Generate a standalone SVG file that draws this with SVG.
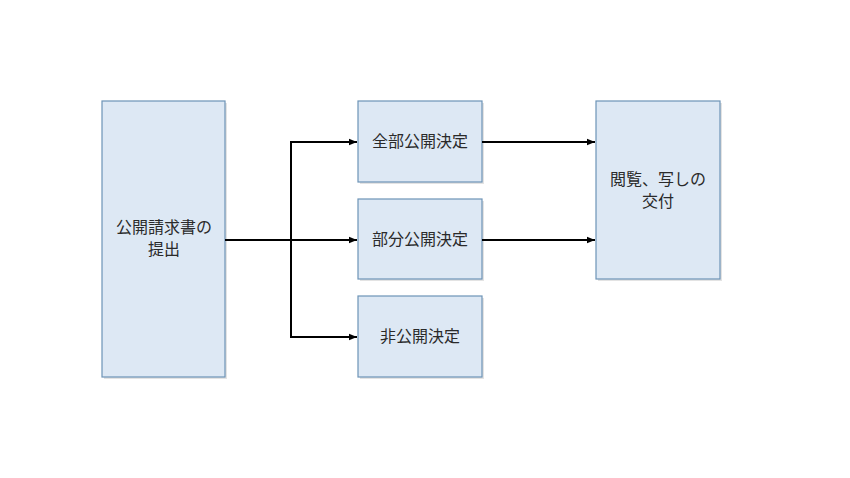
<svg xmlns="http://www.w3.org/2000/svg" width="850" height="478" viewBox="0 0 850 478">
<defs>
<style>
.box{fill:#dde8f4;stroke:#6d93b6;stroke-width:1.2}
.sh{fill:#c8c8c8;opacity:0.5}
.t{font-family:"Noto Sans CJK JP","Noto Sans CJK SC",sans-serif;font-size:16px;fill:#2a2a2a;text-anchor:middle}
.c{fill:none;stroke:#000;stroke-width:2}
</style>
<marker id="a" viewBox="0 0 10 10" refX="10" refY="5" markerWidth="4" markerHeight="4" orient="auto" markerUnits="strokeWidth">
<path d="M0,1 L10,5 L0,9 z" fill="#000"/>
</marker>
</defs>
<rect width="850" height="478" fill="#fff"/>
<g id="n1">
<rect class="sh" x="104" y="103" width="123" height="276"/>
<rect class="box" x="102" y="101" width="123" height="276"/>
<text class="t" x="164" y="233">公開請求書の</text>
<text class="t" x="164" y="255">提出</text>
</g>
<g id="n2">
<rect class="sh" x="360" y="103" width="124" height="81"/>
<rect class="box" x="358" y="101" width="124" height="81"/>
<text class="t" x="420" y="147">全部公開決定</text>
</g>
<g id="n3">
<rect class="sh" x="360" y="201" width="124" height="80"/>
<rect class="box" x="358" y="199" width="124" height="80"/>
<text class="t" x="420" y="245">部分公開決定</text>
</g>
<g id="n4">
<rect class="sh" x="360" y="298" width="124" height="81"/>
<rect class="box" x="358" y="296" width="124" height="81"/>
<text class="t" x="420" y="342">非公開決定</text>
</g>
<g id="n5">
<rect class="sh" x="598" y="103" width="124" height="178"/>
<rect class="box" x="596" y="101" width="124" height="178"/>
<text class="t" x="658" y="185">閲覧、写しの</text>
<text class="t" x="658" y="207">交付</text>
</g>
<g id="connectors">
<path class="c" d="M225,240 H357" marker-end="url(#a)"/>
<path class="c" d="M291,337 V142 H357" marker-end="url(#a)"/>
<path class="c" d="M291,240 V337 H357" marker-end="url(#a)"/>
<path class="c" d="M482,142 H595" marker-end="url(#a)"/>
<path class="c" d="M482,240 H595" marker-end="url(#a)"/>
</g>
</svg>
